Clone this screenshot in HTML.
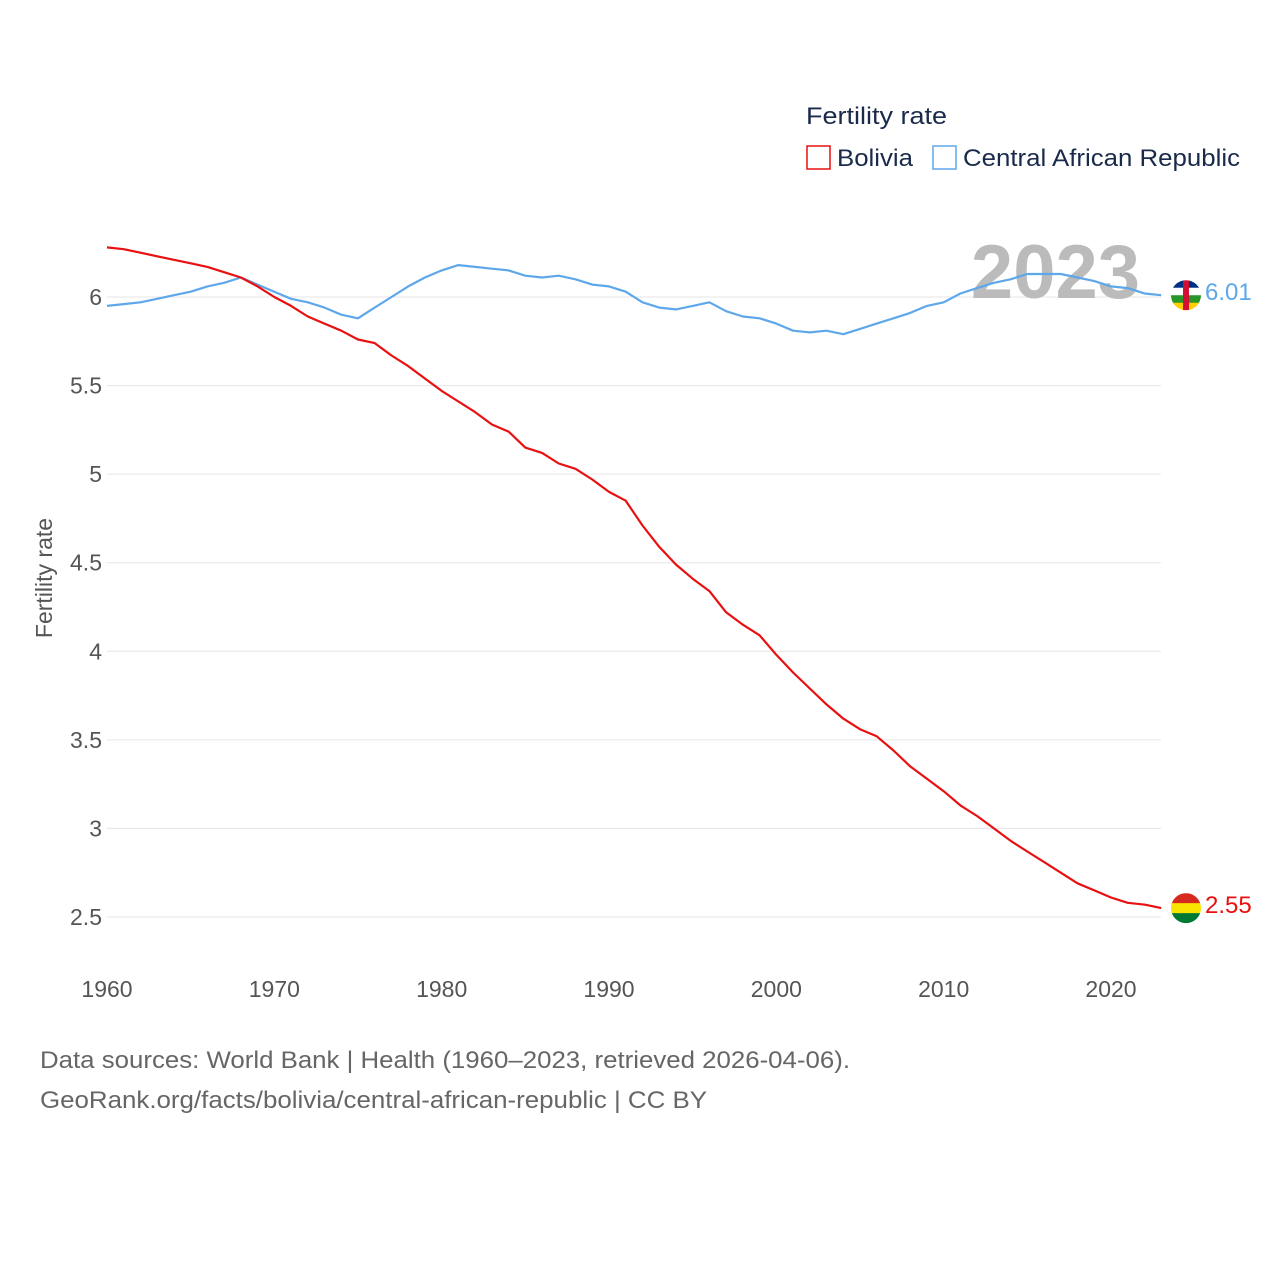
<!DOCTYPE html>
<html><head><meta charset="utf-8">
<style>
html,body{margin:0;padding:0;background:#fff;}
body{width:1280px;height:1280px;position:relative;font-family:"Liberation Sans",sans-serif;overflow:hidden;}
svg{position:absolute;left:0;top:0;}
</style></head>
<body>
<svg id="chart" width="1280" height="1280">
  <g id="grid"></g>
  <g id="yticks"></g>
  <g id="xticks"></g>
  <text x="52" y="578" transform="rotate(-90 52 578)" text-anchor="middle" font-size="23" fill="#555">Fertility rate</text>
  <text x="1140" y="298" text-anchor="end" font-size="76" font-weight="bold" fill="#bbb">2023</text>
  <g id="lines"></g>
  <g id="ends"></g>
  <text x="806" y="124" font-size="24" fill="#1a2a4a" textLength="141" lengthAdjust="spacingAndGlyphs">Fertility rate</text>
  <g>
    <rect x="807" y="146" width="23" height="23" fill="none" stroke="#e81010" stroke-width="1.5"/>
    <text x="837" y="166" font-size="24" fill="#1a2a4a" textLength="76" lengthAdjust="spacingAndGlyphs">Bolivia</text>
  </g>
  <g>
    <rect x="933" y="146" width="23" height="23" fill="none" stroke="#5ea7ea" stroke-width="1.5"/>
    <text x="963" y="166" font-size="24" fill="#1a2a4a" textLength="277" lengthAdjust="spacingAndGlyphs">Central African Republic</text>
  </g>
  <text x="40" y="1068" font-size="24" fill="#666" textLength="810" lengthAdjust="spacingAndGlyphs">Data sources: World Bank | Health (1960–2023, retrieved 2026-04-06).</text>
  <text x="40" y="1108" font-size="24" fill="#666" textLength="667" lengthAdjust="spacingAndGlyphs">GeoRank.org/facts/bolivia/central-african-republic | CC BY</text>
</svg>
<script>
const years = [1960,1961,1962,1963,1964,1965,1966,1967,1968,1969,1970,1971,1972,1973,1974,1975,1976,1977,1978,1979,1980,1981,1982,1983,1984,1985,1986,1987,1988,1989,1990,1991,1992,1993,1994,1995,1996,1997,1998,1999,2000,2001,2002,2003,2004,2005,2006,2007,2008,2009,2010,2011,2012,2013,2014,2015,2016,2017,2018,2019,2020,2021,2022,2023];
const bolivia = [6.28,6.27,6.25,6.23,6.21,6.19,6.17,6.14,6.11,6.06,6.00,5.95,5.89,5.85,5.81,5.76,5.74,5.67,5.61,5.54,5.47,5.41,5.35,5.28,5.24,5.15,5.12,5.06,5.03,4.97,4.90,4.85,4.71,4.59,4.49,4.41,4.34,4.22,4.15,4.09,3.98,3.88,3.79,3.70,3.62,3.56,3.52,3.44,3.35,3.28,3.21,3.13,3.07,3.00,2.93,2.87,2.81,2.75,2.69,2.65,2.61,2.58,2.57,2.55];
const car = [5.95,5.96,5.97,5.99,6.01,6.03,6.06,6.08,6.11,6.07,6.03,5.99,5.97,5.94,5.90,5.88,5.94,6.00,6.06,6.11,6.15,6.18,6.17,6.16,6.15,6.12,6.11,6.12,6.10,6.07,6.06,6.03,5.97,5.94,5.93,5.95,5.97,5.92,5.89,5.88,5.85,5.81,5.80,5.81,5.79,5.82,5.85,5.88,5.91,5.95,5.97,6.02,6.05,6.08,6.10,6.13,6.13,6.13,6.11,6.09,6.06,6.05,6.02,6.01];
const yTicks = [2.5,3,3.5,4,4.5,5,5.5,6];
const yTickLabels = ["2.5","3","3.5","4","4.5","5","5.5","6"];
const xTicks = [1960,1970,1980,1990,2000,2010,2020];

const NS = "http://www.w3.org/2000/svg";
function xs(v){ return 107 + (v-1960)*(1111-107)/60; }
function ys(v){ return 297 + (6-v)*(917-297)/3.5; }
function mk(tag, attrs, parent){ const e=document.createElementNS(NS,tag); for(const k in attrs) e.setAttribute(k,attrs[k]); parent.appendChild(e); return e; }

const grid=document.getElementById('grid'), yt=document.getElementById('yticks'), xt=document.getElementById('xticks');
yTicks.forEach((t,i)=>{
  const l=mk('line',{x1:107,x2:1161,y1:ys(t),y2:ys(t),stroke:'#e6e6e6','stroke-width':1},grid);
  
  
  const tx=mk('text',{x:102,y:ys(t)+8,'text-anchor':'end','font-size':23,fill:'#555'},yt);
  tx.textContent=yTickLabels[i];
  
  
});
xTicks.forEach(t=>{
  const tx=mk('text',{x:xs(t),y:997,'text-anchor':'middle','font-size':23,fill:'#555'},xt);
  tx.textContent=String(t);
  
  
});
const lines=document.getElementById('lines');
function drawLine(vals,color,name){
  const d=vals.map((v,i)=>(i?'L':'M')+xs(years[i]).toFixed(1)+','+ys(v).toFixed(1)).join(' ');
  const p=mk('path',{d:d,fill:'none',stroke:color,'stroke-width':2.2,'stroke-linejoin':'round'},lines);
  
  
}
drawLine(car,'#5ea7ea','line-central-african-republic');
drawLine(bolivia,'#e81010','line-bolivia');

const ends=document.getElementById('ends');
function flag(cy,stripes,name,vstripe){
  const g=mk('g',{},ends);
  
  
  const id='c'+name;
  const cp=mk('clipPath',{id:id},g); mk('circle',{cx:1186,cy:cy,r:15},cp);
  const gg=mk('g',{'clip-path':'url(#'+id+')'},g);
  const h=30/stripes.length;
  stripes.forEach((c,i)=>mk('rect',{x:1171,y:cy-15+i*h,width:30,height:h+0.5,fill:c},gg));
  if(vstripe) mk('rect',{x:1183,y:cy-15,width:6,height:30,fill:'#d21034'},gg);
}
const last=years.length-1;
flag(ys(car[last]),['#003082','#ffffff','#289728','#ffce00'],'flag-central-african-republic',true);
flag(ys(bolivia[last]),['#d52b1e','#f9e300','#007934'],'flag-bolivia',false);
const t1=mk('text',{x:1205,y:ys(car[last])+5,'font-size':24,fill:'#5ea7ea'},ends);
t1.textContent=car[last].toFixed(2);


const t2=mk('text',{x:1205,y:ys(bolivia[last])+5,'font-size':24,fill:'#e81010'},ends);
t2.textContent=bolivia[last].toFixed(2);


</script>
</body></html>
